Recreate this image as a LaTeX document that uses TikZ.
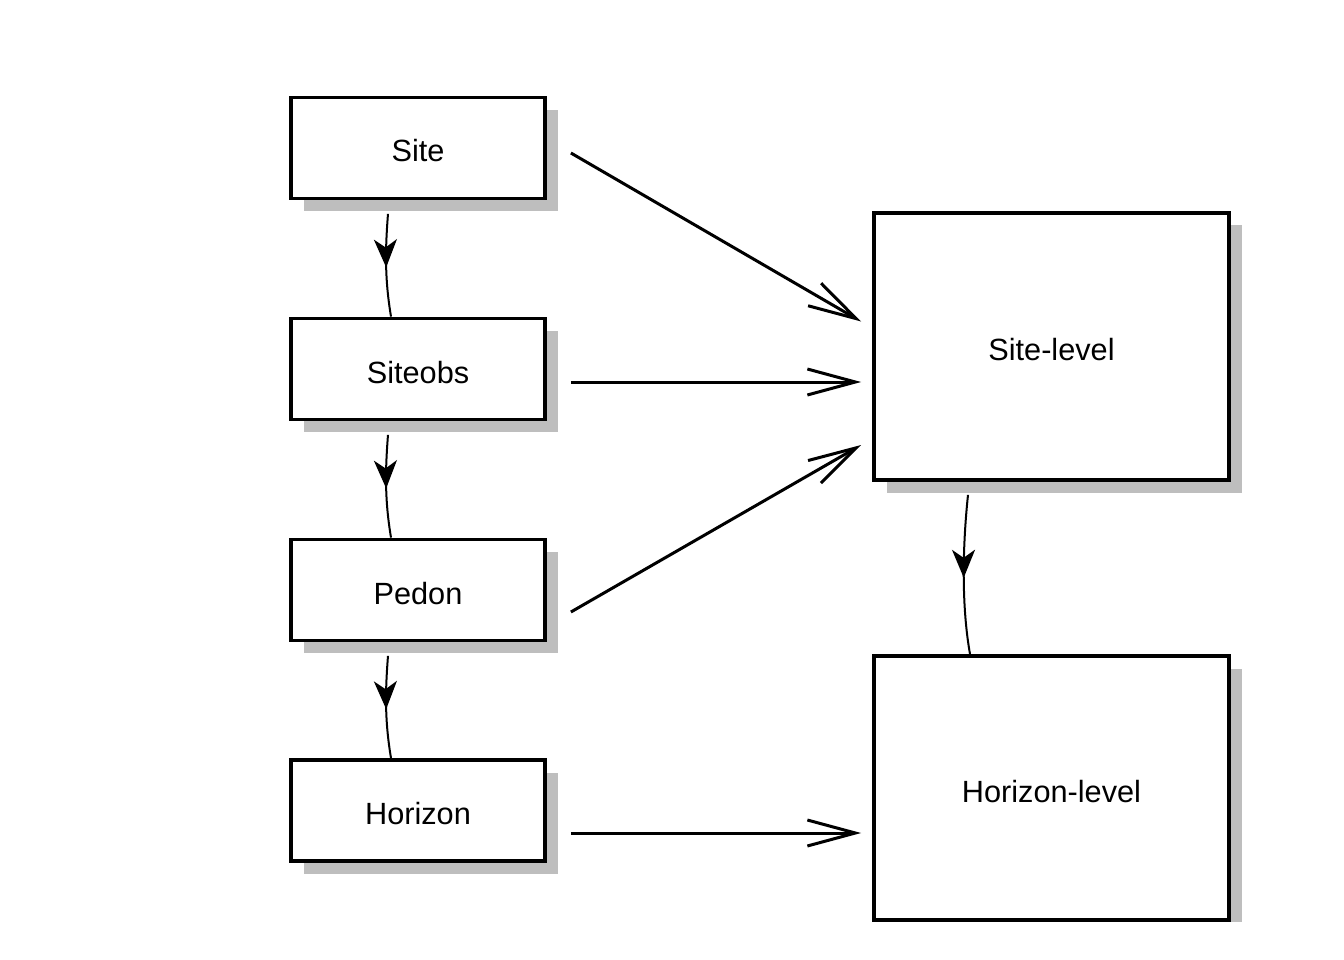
\documentclass[tikz,border=0pt]{standalone}
\usepackage{fontspec}
\setmainfont{Liberation Sans}
\usetikzlibrary{arrows.meta,shadows,decorations.markings}
\definecolor{shadowgray}{HTML}{BEBEBE}
\tikzset{
  tablebox/.style={draw=black, line width=3.8pt, fill=white, inner sep=0pt,
    minimum width=254pt, minimum height=101pt,
    text height=28pt, text depth=0pt,
    drop shadow={shadow xshift=12.5pt, shadow yshift=-12.5pt, fill=shadowgray, opacity=1},
    font=\fontsize{30.7}{36}\selectfont},
  levelbox/.style={tablebox, minimum width=355pt},
  flowarrow/.style={line width=3pt,
    -{Straight Barb[length=48pt, width=26pt, line width=3pt]}},
  linkarrow/.style={line width=2pt, postaction={decorate},
    decoration={markings, mark=at position 0.52 with
      {\arrow{Stealth[length=28pt, width=23pt, inset=8pt]}}}}
}
\begin{document}
\begin{tikzpicture}[x=1pt, y=-1pt]
\useasboundingbox (0,0) rectangle (1344,960);
\begin{scope}
\clip (0,0) rectangle (1344,921.8);

% tables on the left
\node[tablebox] (site)    at (418,148)   {Site};
\node[tablebox] (siteobs) at (418,369)   {Siteobs};
\node[tablebox] (pedon)   at (418,590)   {Pedon};
\node[tablebox] (horizon) at (418,810.5) {Horizon};

% aggregated levels on the right
\node[levelbox, minimum height=267pt] (sitelevel)    at (1051.5,346.5) {Site-level};
\node[levelbox, minimum height=264pt] (horizonlevel) at (1051.5,788)   {Horizon-level};

% links between tables
\draw[linkarrow] ([shift={(-30,13.5)}]site.south)
  .. controls +(-3,38) and +(-6,-36) .. ([xshift=-27pt]siteobs.north);
\draw[linkarrow] ([shift={(-30,13.5)}]siteobs.south)
  .. controls +(-3,38) and +(-6,-36) .. ([xshift=-27pt]pedon.north);
\draw[linkarrow] ([shift={(-30,13.5)}]pedon.south)
  .. controls +(-3,38) and +(-6,-36) .. ([xshift=-27pt]horizon.north);
\draw[linkarrow] ([shift={(-83.5,13)}]sitelevel.south)
  .. controls +(-6,57) and +(-8,-45) .. ([xshift=-81.5pt]horizonlevel.north);

% flows into the levels
\draw[flowarrow] ([shift={(24,5)}]site.east)       -- ([shift={(-11,-25)}]sitelevel.west);
\draw[flowarrow] ([shift={(24,13)}]siteobs.east)   -- ([shift={(-11,35.5)}]sitelevel.west);
\draw[flowarrow] ([shift={(24,22)}]pedon.east)     -- ([shift={(-11,98.5)}]sitelevel.west);
\draw[flowarrow] ([shift={(24,22.5)}]horizon.east) -- ([shift={(-11,45)}]horizonlevel.west);
\end{scope}
\end{tikzpicture}
\end{document}
